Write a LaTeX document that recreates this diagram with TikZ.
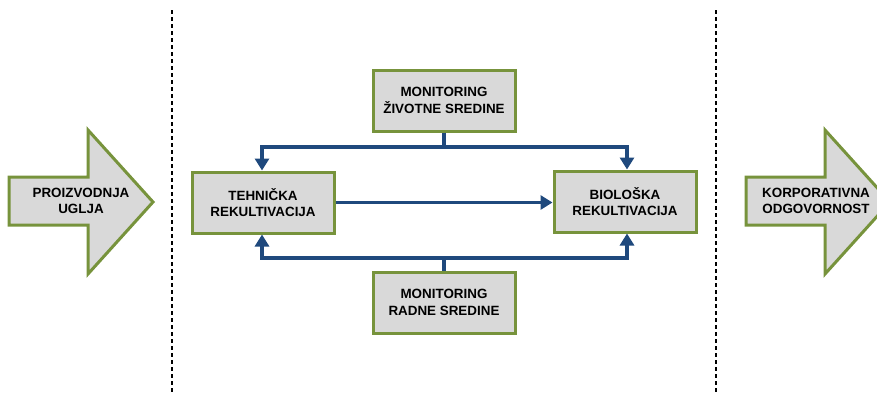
\documentclass[tikz,border=0pt]{standalone}
\usepackage{fontspec}
\setmainfont{Liberation Sans}
\usetikzlibrary{arrows.meta}

\definecolor{boxfill}{HTML}{D9D9D9}
\definecolor{boxline}{HTML}{77933C}
\definecolor{flowline}{HTML}{1F497D}

\tikzstyle{box}=[draw=boxline,fill=boxfill,line width=3pt,minimum width=142pt,minimum height=61pt,inner sep=0pt,align=center,font=\fontsize{13.4}{16.5}\selectfont\bfseries]
\tikzstyle{arrowtext}=[align=center,font=\fontsize{13.4}{16.5}\selectfont\bfseries]
\tikzstyle{bigarrow}=[draw=boxline,fill=boxfill,line width=3pt,line join=miter]
\tikzstyle{flow}=[draw=flowline,line width=3.5pt,-{Triangle[length=12pt,width=14pt]}]
\tikzstyle{divider}=[black,line width=2.5pt,dash pattern=on 4pt off 3pt]

\begin{document}
\begin{tikzpicture}[x=1pt,y=-1pt]
    \useasboundingbox (0,0) rectangle (877,394);
    % side arrows
    \draw[bigarrow] (9,177) -- (88,177) -- (88,130) -- (153,202) -- (88,274) -- (88,225) -- (9,225) -- cycle;
    \draw[bigarrow] (746,177) -- (825,177) -- (825,130) -- (890,202) -- (825,274) -- (825,225) -- (746,225) -- cycle;
    \node (p)[arrowtext] at (81,201) {PROIZVODNJA\\UGLJA};
    \node (k)[arrowtext] at (816,201) {KORPORATIVNA\\ODGOVORNOST};
    % dividers
    \coordinate (d1) at (172,10);
    \coordinate (d2) at (172,394);
    \coordinate (d3) at (716,10);
    \coordinate (d4) at (716,394);
    \draw[divider] (d1) -- (d2);
    \draw[divider] (d3) -- (d4);
    % boxes
    \node (mz)[box] at (444,100.5) {MONITORING\\ŽIVOTNE SREDINE};
    \node (t)[box] at (263,202.5) {TEHNIČKA\\REKULTIVACIJA};
    \node (b)[box] at (625,201.5) {BIOLOŠKA\\REKULTIVACIJA};
    \node (mr)[box] at (444,302.5) {MONITORING\\RADNE SREDINE};
    % connectors
    \draw[flow] (mz.south) |- (262,147) -- (t.north -| 262,0);
    \draw[flow] (mz.south) |- (627,147) -- (b.north -| 627,0);
    \draw[flow] (mr.north) |- (262,258) -- (t.south -| 262,0);
    \draw[flow] (mr.north) |- (627,258) -- (b.south -| 627,0);
    \draw[flow] (t.east) -- (b.west |- t.east);
\end{tikzpicture}
\end{document}
